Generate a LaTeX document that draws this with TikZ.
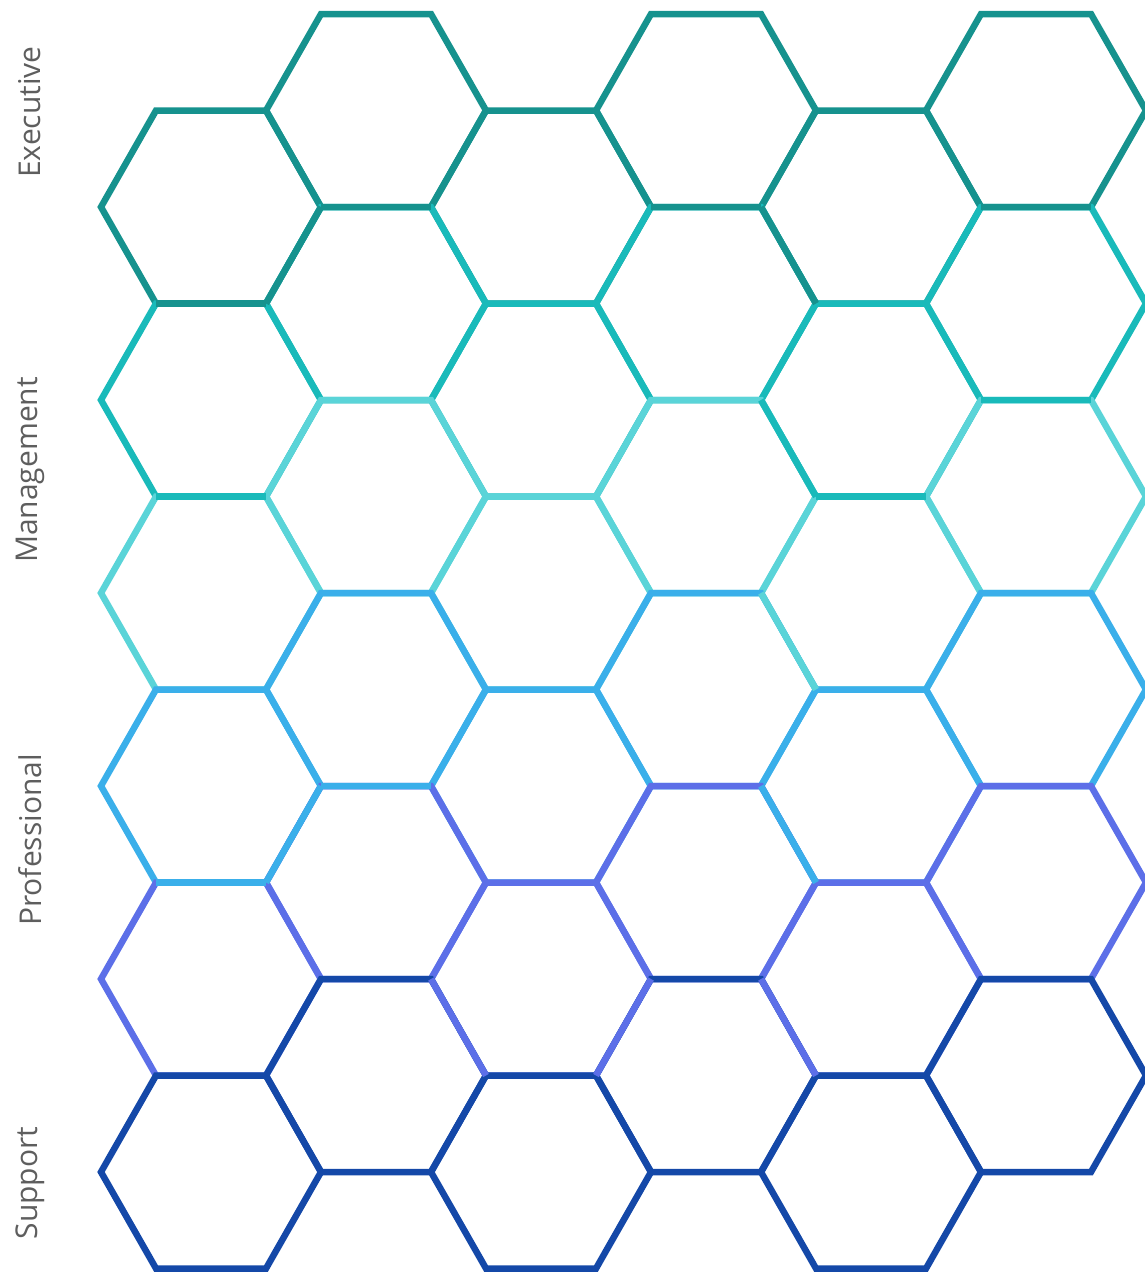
\documentclass[tikz,border=0pt]{standalone}
\usepackage{fontspec}
\setmainfont{Open Sans}
\definecolor{bandA}{HTML}{16928E}
\definecolor{bandB}{HTML}{19BABA}
\definecolor{bandC}{HTML}{5AD4D8}
\definecolor{bandD}{HTML}{3AAFEA}
\definecolor{bandE}{HTML}{5C6FE8}
\definecolor{bandF}{HTML}{1448A8}
\definecolor{labelgray}{HTML}{5E5E5E}
\begin{document}
\begin{tikzpicture}[
  x=1pt, y=-1pt,
  hexline/.style={line width=6.5pt, line join=miter},
  lbl/.style={font=\fontsize{30}{36}\selectfont, text=labelgray, rotate=90}
]
\useasboundingbox (0,0) rectangle (1145,1272);
\foreach \cc in {1,...,6} {
  \foreach \rr in {1,...,6} {
    \pgfmathsetmacro{\hx}{211+165*(\cc-1)}
    \pgfmathsetmacro{\hy}{207+193*(\rr-1)-96.5*(1-mod(\cc,2))}
    \coordinate (h\cc\rr) at (\hx,\hy);
  }
}
\foreach \rr/\col in {1/bandA,2/bandB,3/bandC,4/bandD,5/bandE,6/bandF}
  \foreach \cc in {1,...,6}
    \draw[hexline, \col] (h\cc\rr) +(-110,0) -- +(-55,-96.5) -- +(55,-96.5)
      -- +(110,0) -- +(55,96.5) -- +(-55,96.5) -- cycle;
% edges where the upper hexagon shows
\foreach \cc/\rr/\col in {1/1/bandA,1/2/bandB,1/4/bandD,2/1/bandA,2/4/bandD,
    4/1/bandA,5/2/bandB,6/1/bandA,6/2/bandB}
  \draw[hexline, \col] (h\cc\rr) +(-55,96.5) -- +(55,96.5);
\foreach \cc/\rr/\col in {1/1/bandA,1/4/bandD,3/5/bandE}
  \draw[hexline, \col] (h\cc\rr) +(110,0) -- +(55,96.5);
\foreach \cc/\rr/\col in {3/5/bandE,5/1/bandA,5/2/bandB,5/3/bandC,5/4/bandD,5/5/bandE}
  \draw[hexline, \col] (h\cc\rr) +(-110,0) -- +(-55,96.5);
\node[lbl] (exec) at (30,112) {Executive};
\node[lbl] (mgmt) at (30,470) {Management};
\node[lbl] (prof) at (30,840) {Professional};
\node[lbl] (supp) at (30,1183) {Support};
\end{tikzpicture}
\end{document}
